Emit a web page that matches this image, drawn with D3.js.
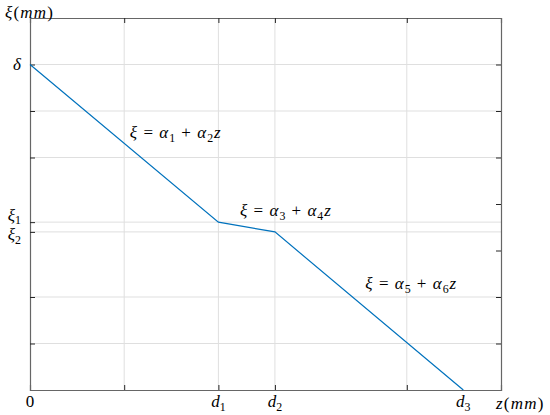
<!DOCTYPE html>
<html><head><meta charset="utf-8">
<script src="https://cdn.jsdelivr.net/npm/d3@7"></script>
<style>body{margin:0;background:#fff}svg{display:block}text{font-family:"Liberation Serif","Times New Roman",serif}</style>
</head><body>
<svg id="c" width="550" height="415"></svg>
<script>
// data
const zBreaks = [0, 2, 2.6, 4.6];
const xiValues = [7, 3.61, 3.4, 0];
const xTicks = [1, 2, 2.6, 4];
const xTickLabels = [
  {v: 0, segs: [{t: "0"}]},
  {v: 2, segs: [{t: "d", i: 1}, {t: "1", s: 1}]},
  {v: 2.6, segs: [{t: "d", i: 1}, {t: "2", s: 1}]},
  {v: 4.6, segs: [{t: "d", i: 1}, {t: "3", s: 1}]}
];
const yTicksLeft = [1, 2, 3.4, 3.61, 5, 6, 7];
const yTicksRight = [1, 2, 3, 4, 5, 6, 7];
const yGrid = [1, 2, 3.4, 3.61, 5, 6, 7];
const xGrid = [1, 2, 2.6, 4];
const yTickLabels = [
  {v: 3.75, segs: [{t: "ξ", i: 1}, {t: "1", s: 1}]},
  {v: 3.33, segs: [{t: "ξ", i: 1}, {t: "2", s: 1}]},
  {v: 7, segs: [{t: "δ", i: 1}]}
];
const annotations = [
  {z: 1.06, xi: 5.42, segs: [{t:"ξ",i:1},{t:" = "},{t:"α",i:1},{t:"1",s:1},{t:" + "},{t:"α",i:1},{t:"2",s:1},{t:"z",i:1}]},
  {z: 2.23, xi: 3.74, segs: [{t:"ξ",i:1},{t:" = "},{t:"α",i:1},{t:"3",s:1},{t:" + "},{t:"α",i:1},{t:"4",s:1},{t:"z",i:1}]},
  {z: 3.56, xi: 2.17, segs: [{t:"ξ",i:1},{t:" = "},{t:"α",i:1},{t:"5",s:1},{t:" + "},{t:"α",i:1},{t:"6",s:1},{t:"z",i:1}]}
];

const svg = d3.select("#c");
const L = 30, R = 501, T = 18, B = 390;
const x = d3.scaleLinear().domain([0, 5]).range([L, R]);
const y = d3.scaleLinear().domain([0, 8]).range([B, T]);
const FS = 17;

function mathText(g, segs, fs, ls) {
  const t = g.append("text").attr("font-size", fs).attr("fill", "#000")
    .attr("letter-spacing", ls || 0)
    .style("white-space", "pre");
  segs.forEach((sg, k) => {
    const ts = t.append("tspan").text(sg.t);
    if (sg.i) ts.attr("font-style", "italic");
    if (sg.s) ts.attr("font-size", fs * 0.7).attr("dy", fs * 0.22);
    else if (k > 0 && segs[k - 1].s) ts.attr("dy", -fs * 0.22);
  });
  return t;
}

// grid
svg.append("g").selectAll("line").data(xGrid).join("line")
  .attr("x1", d => x(d)).attr("x2", d => x(d)).attr("y1", T).attr("y2", B)
  .attr("stroke", "#dfdfdf").attr("stroke-width", 1);
svg.append("g").selectAll("line").data(yGrid).join("line")
  .attr("y1", d => y(d)).attr("y2", d => y(d)).attr("x1", L).attr("x2", R)
  .attr("stroke", "#dfdfdf").attr("stroke-width", 1);

// axes
const ax = "#262626";
const xb = d3.axisBottom(x).tickValues(xTicks).tickSize(-5).tickFormat("");
const xt = d3.axisTop(x).tickValues(xTicks).tickSize(-5).tickFormat("");
const yl = d3.axisLeft(y).tickValues(yTicksLeft).tickSize(-5).tickFormat("");
const yr = d3.axisRight(y).tickValues(yTicksRight).tickSize(-5).tickFormat("");
[[xb, `translate(0,${B})`], [xt, `translate(0,${T})`], [yl, `translate(${L},0)`], [yr, `translate(${R},0)`]]
  .forEach(([a, tr]) => {
    const g = svg.append("g").attr("transform", tr).call(a);
    g.selectAll("path,line").attr("stroke", ax);
    g.select("path.domain").attr("stroke", "#666").attr("stroke-width", 1.2);
  });

// line
svg.append("path").datum(zBreaks.map((z, k) => [z, xiValues[k]]))
  .attr("d", d3.line().x(d => x(d[0])).y(d => y(d[1])))
  .attr("fill", "none").attr("stroke", "#0072BD").attr("stroke-width", 1.2);

// tick labels
xTickLabels.forEach(tl => {
  mathText(svg, tl.segs, FS).attr("x", x(tl.v)).attr("y", 407).attr("text-anchor", "middle");
});
yTickLabels.forEach(tl => {
  mathText(svg, tl.segs, FS).attr("x", 21).attr("y", y(tl.v) + 5).attr("text-anchor", "end");
});

// axis labels
mathText(svg, [{t:"ξ",i:1},{t:"("},{t:"mm",i:1},{t:")"}], FS, 1.2).attr("x", 5).attr("y", 18);
mathText(svg, [{t:"z",i:1},{t:"("},{t:"mm",i:1},{t:")"}], FS, 1.2).attr("x", 496).attr("y", 409);

// annotations
annotations.forEach(a => {
  mathText(svg, a.segs, FS, 1).attr("x", x(a.z)).attr("y", y(a.xi));
});
</script>
</body></html>
